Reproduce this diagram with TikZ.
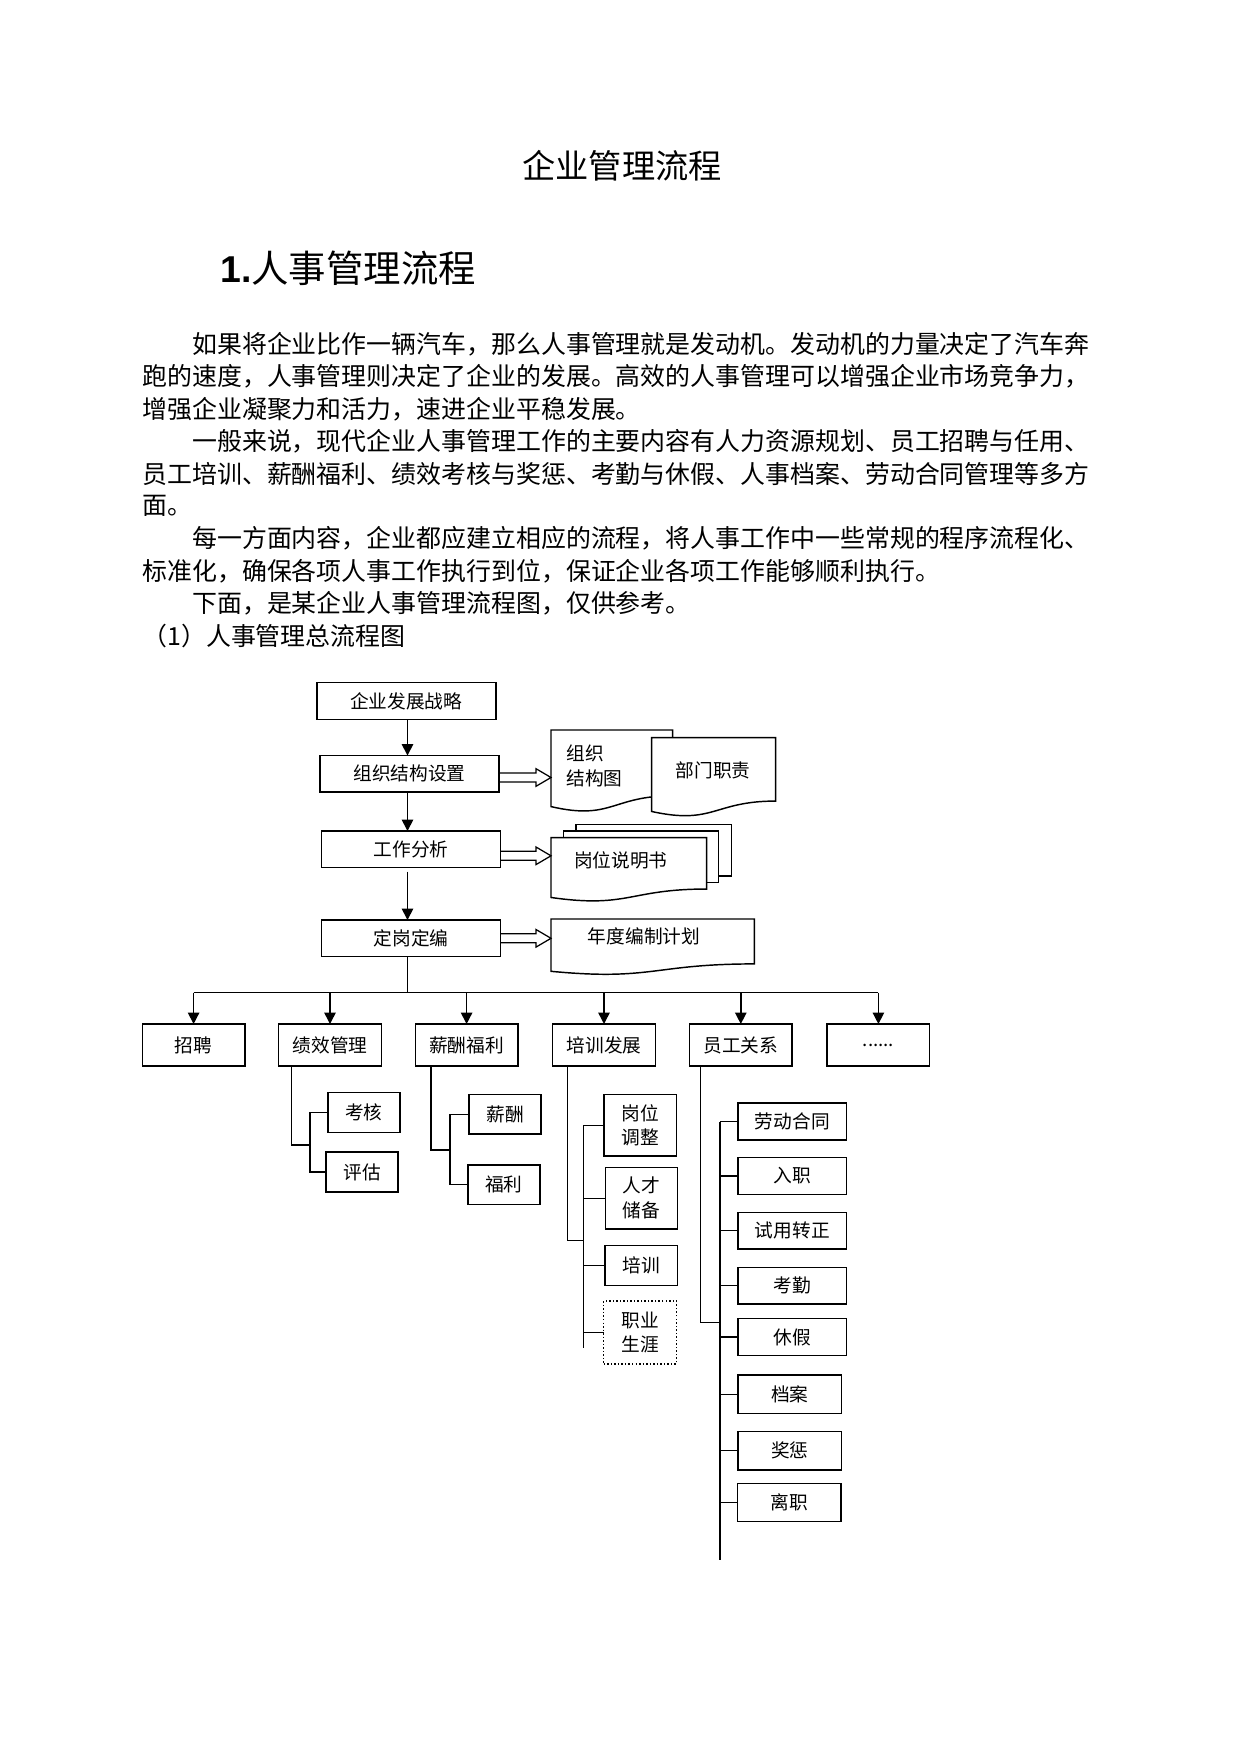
\documentclass[tikz,border=0pt]{standalone}
\usepackage{fontspec}
\setmainfont{Noto Sans CJK SC}
\newfontfamily\latinbold{Liberation Sans}
\usepackage{tikz}
\usetikzlibrary{arrows.meta,calc}
\newlength\pxu
\setlength\pxu{0.16922mm}

% wavy-bottom document outline drawn from the corners of an empty node
\newcommand{\docline}[1]{%
  \draw[doc] (#1.north west) -- (#1.north east)
    -- ($(#1.north east)!0.802!(#1.south east)$)
    .. controls ($(#1.north)!0.802!(#1.south)$) and ($(#1.north)!1.107!(#1.south)$)
    .. ($(#1.north west)!0.934!(#1.south west)$) -- cycle;}

% hollow block arrow from box #1 to document #2, #3 = vertical offset
\newcommand{\hollowarrow}[3]{%
  \coordinate (ha) at ([shift={(0,#3)}]#1.east);
  \coordinate (hb) at (#2.west |- ha);
  \draw[hollow] ([shift={(0,-4.5)}]ha) -- ([shift={(-15,-4.5)}]hb)
    -- ([shift={(-15,-8.8)}]hb) -- (hb) -- ([shift={(-15,8.8)}]hb)
    -- ([shift={(-15,4.5)}]hb) -- ([shift={(0,4.5)}]ha);}

\begin{document}
\begin{tikzpicture}[
  x={(0.16922mm,0)}, y={(0,-0.16922mm)},
  box/.style={draw, line width=0.7pt, fill=white, inner sep=0pt, outer sep=0pt, align=center, font=\fontsize{9pt}{12pt}\selectfont},
  topbox/.style={box, minimum width=179\pxu, minimum height=36.5\pxu},
  rowbox/.style={box, minimum width=102.5\pxu, minimum height=42\pxu},
  subbox/.style={box, minimum width=72\pxu, minimum height=40\pxu},
  tallbox/.style={box, minimum width=72.5\pxu, minimum height=61.5\pxu},
  relbox/.style={box, minimum width=108.7\pxu, minimum height=36.7\pxu},
  relbox2/.style={box, minimum width=103.5\pxu, minimum height=38.5\pxu},
  docbox/.style={anchor=north west, inner sep=0pt, outer sep=0pt},
  sheet/.style={docbox, draw, line width=0.7pt, fill=white},
  doc/.style={line width=0.7pt, fill=white},
  doctext/.style={inner sep=0pt, font=\fontsize{9pt}{12pt}\selectfont},
  hollow/.style={line width=0.6pt},
  line/.style={line width=0.7pt},
  arrow/.style={line width=0.7pt, -{Triangle[length=5.5pt, width=5.5pt]}},
  bodyline/.style={anchor=west, inner sep=0pt, font=\fontsize{12pt}{15pt}\selectfont}
]
\useasboundingbox (0,0) rectangle (1241,1755);

% titles and text
\node[inner sep=0pt, font=\fontsize{16pt}{20pt}\selectfont] (title) at (622,166) {企业管理流程};
\node[anchor=west, inner sep=0pt, font=\fontsize{18pt}{22pt}\selectfont] (head) at (220,268) {{\latinbold\bfseries 1.}人事管理流程};
\foreach \t [count=\i from 0] in {
  {\hspace*{2em}如果将企业比作一辆汽车，那么人事管理就是发动机。发动机的力量决定了汽车奔},
  {跑的速度，人事管理则决定了企业的发展。高效的人事管理可以增强企业市场竞争力，},
  {增强企业凝聚力和活力，速进企业平稳发展。},
  {\hspace*{2em}一般来说，现代企业人事管理工作的主要内容有人力资源规划、员工招聘与任用、},
  {员工培训、薪酬福利、绩效考核与奖惩、考勤与休假、人事档案、劳动合同管理等多方},
  {面。},
  {\hspace*{2em}每一方面内容，企业都应建立相应的流程，将人事工作中一些常规的程序流程化、},
  {标准化，确保各项人事工作执行到位，保证企业各项工作能够顺利执行。},
  {\hspace*{2em}下面，是某企业人事管理流程图，仅供参考。},
  {（1）人事管理总流程图}}
  \node[bodyline] (p\i) at (142,344.3+32.4*\i) {\t};

% main chain
\coordinate (spine) at (407.5,0);
\node[topbox] (zl) at (406.3,701) {企业发展战略};
\node[topbox] (zz) at (409.5,773.8) {组织结构设置};
\node[topbox] (gz) at (411.2,849.3) {工作分析};
\node[topbox] (dg) at (411.2,938.3) {定岗定编};
\draw[arrow] (zl.south -| spine) -- (zz.north -| spine);
\draw[arrow] (zz.south -| spine) -- (gz.north -| spine);
\draw[arrow, shorten <=2pt] (gz.south -| spine) -- (dg.north -| spine);

% documents
\node[docbox, minimum width=121.7\pxu, minimum height=82\pxu] (d1) at (551,730) {};
\docline{d1}
\node[doctext, anchor=west, align=left] (d1t) at (566,765.8) {组织\\结构图};
\node[docbox, minimum width=124\pxu, minimum height=79\pxu] (d2) at (651.7,737.7) {};
\docline{d2}
\node[doctext] (d2t) at (713,770) {部门职责};
\node[sheet, minimum width=155.7\pxu, minimum height=51.7\pxu] (s3b) at (576,824.3) {};
\node[sheet, minimum width=155\pxu, minimum height=51.7\pxu] (s3m) at (563.7,831) {};
\node[docbox, minimum width=155.7\pxu, minimum height=64\pxu] (d3) at (551,837.7) {};
\docline{d3}
\node[doctext] (d3t) at (620.8,860.7) {岗位说明书};
\node[docbox, minimum width=203.3\pxu, minimum height=56\pxu] (d4) at (551,919) {};
\docline{d4}
\node[doctext] (d4t) at (644,936.7) {年度编制计划};
\hollowarrow{zz}{d1}{3.7}
\hollowarrow{gz}{d3}{6.5}
\hollowarrow{dg}{d4}{0}

% second level
\coordinate (bus) at (0,992.7);
\foreach \n/\x/\t in {zp/193.6/招聘, jx/330/绩效管理, xf/466.6/薪酬福利, pf/604/培训发展, yg/740.8/员工关系}
  \node[rowbox] (\n) at (\x,1045) {\t};
\node[rowbox] (more) at (878.4,1045) {{......}};
\draw[line] (dg.south -| spine) -- (bus -| spine);
\draw[line] (zp.north |- bus) -- (more.north |- bus);
\foreach \n in {zp,jx,xf,pf,yg,more}
  \draw[arrow] (\n.north |- bus) -- (\n.north);

% 绩效管理
\node[subbox] (kh) at (363.8,1112.7) {考核};
\node[subbox] (pg) at (362.2,1172) {评估};
\coordinate (jxj) at (310,1145);
\draw[line] ([xshift=13\pxu]jx.south west) |- (jxj);
\draw[line] (kh.west) -- (kh.west -| jxj) -- (pg.west -| jxj) -- (pg.west);

% 薪酬福利
\node[subbox, minimum height=39.3\pxu] (xc) at (505,1114.3) {薪酬};
\node[subbox, minimum height=39.3\pxu] (fl) at (503.8,1184.7) {福利};
\coordinate (xfj) at (450,1150);
\draw[line] ([xshift=15.5\pxu]xf.south west) |- (xfj);
\draw[line] (xc.west) -- (xc.west -| xfj) -- (fl.west -| xfj) -- (fl.west);

% 培训发展
\node[tallbox] (tz) at (640.3,1125.3) {岗位\\调整};
\node[tallbox] (rc) at (641.5,1198.3) {人才\\储备};
\node[subbox, minimum width=72.7\pxu] (px) at (641.3,1265.7) {培训};
\node[tallbox, densely dotted, minimum height=63\pxu] (zy) at (640,1332.5) {职业\\生涯};
\coordinate (pfj) at (583.3,1240.7);
\coordinate (pfend) at (583.3,1348.3);
\draw[line] ([xshift=14.5\pxu]pf.south west) |- (pfj);
\draw[line] (tz.west -| pfj) -- (pfend);
\foreach \n in {tz,rc,px,zy}
  \draw[line] (\n.west) -- (\n.west -| pfj);

% 员工关系
\foreach \n/\y/\t in {ld/1121.5/劳动合同, rz/1176/入职, sy/1230.7/试用转正, kq/1285.7/考勤, xj/1337/休假}
  \node[relbox] (\n) at (792.3,\y) {\t};
\node[relbox2] (da) at (789.8,1394.3) {档案};
\node[relbox2] (jc) at (789.8,1450.7) {奖惩};
\node[relbox2] (lz) at (789.2,1502.5) {离职};
\coordinate (ygj) at (720,1322.3);
\coordinate (ygend) at (720,1560);
\draw[line] ([xshift=11\pxu]yg.south west) |- (ygj);
\draw[line] (ld.west -| ygj) -- (ygend);
\foreach \n in {ld,rz,sy,kq,xj,da,jc,lz}
  \draw[line] (\n.west) -- (\n.west -| ygj);
\end{tikzpicture}
\end{document}
